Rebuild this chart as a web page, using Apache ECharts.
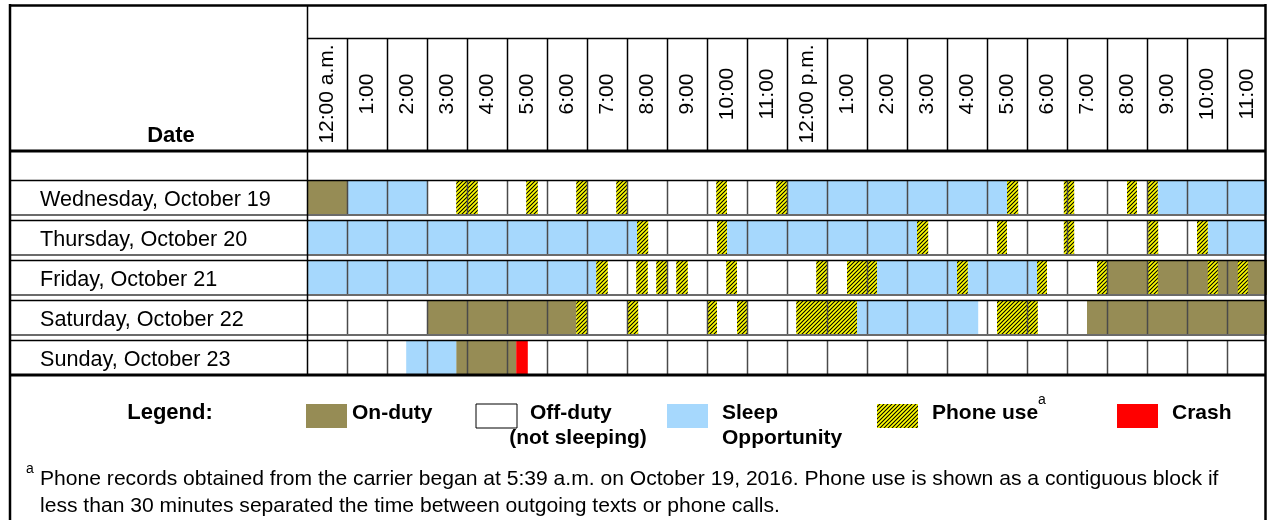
<!DOCTYPE html>
<html>
<head>
<meta charset="utf-8">
<script src="https://cdn.jsdelivr.net/npm/echarts@6/dist/echarts.min.js"></script>
<style>
  html, body { margin: 0; padding: 0; background: #fff; }
  #chart { width: 1267px; height: 520px; }
</style>
</head>
<body>
<div id="chart"></div>
<script>
// rows (top to bottom)
var days = ['Wednesday, October 19', 'Thursday, October 20', 'Friday, October 21',
  'Saturday, October 22', 'Sunday, October 23'];

// column headers, one per hour
var hourLabels = ['12:00 a.m.', '1:00', '2:00', '3:00', '4:00', '5:00', '6:00', '7:00', '8:00',
  '9:00', '10:00', '11:00', '12:00 p.m.', '1:00', '2:00', '3:00', '4:00', '5:00', '6:00', '7:00',
  '8:00', '9:00', '10:00', '11:00'];

// [dayIndex, startHour, endHour]; off-duty is everything not covered
var onDuty = [[0, 0, 1], [2, 20, 24], [3, 3, 6.73], [3, 19.5, 24], [4, 3.73, 5.23]];

var sleep = [[0, 1, 3], [0, 12, 17.5], [0, 21.27, 24],
  [1, 0, 8.25], [1, 10.5, 15.25], [1, 22.52, 24],
  [2, 0, 7.23], [2, 14.25, 18.25],
  [3, 13.75, 16.78],
  [4, 2.48, 3.73]];

var phoneUse = [
  [0, 3.73, 4.27], [0, 5.48, 5.77], [0, 6.73, 7.0], [0, 7.73, 8.0], [0, 10.23, 10.5],
  [0, 11.73, 12.0], [0, 17.5, 17.78], [0, 18.92, 19.18], [0, 20.5, 20.75], [0, 21.0, 21.27],
  [1, 8.25, 8.53], [1, 10.25, 10.5], [1, 15.25, 15.53], [1, 17.25, 17.5], [1, 18.92, 19.18],
  [1, 21.03, 21.28], [1, 22.25, 22.52],
  [2, 7.23, 7.52], [2, 8.23, 8.52], [2, 8.73, 9.0], [2, 9.23, 9.52], [2, 10.48, 10.75],
  [2, 12.73, 13.0], [2, 13.5, 14.25], [2, 16.25, 16.52], [2, 18.25, 18.5], [2, 19.75, 20.02],
  [2, 21.03, 21.27], [2, 22.52, 22.77], [2, 23.27, 23.52],
  [3, 6.73, 7.0], [3, 8.02, 8.28], [3, 10.02, 10.25], [3, 10.75, 11.0], [3, 12.23, 13.75],
  [3, 17.25, 18.27]];

var crash = [[4, 5.23, 5.52]];

var FONT = '"Liberation Sans", Arial, sans-serif';
var OLIVE = '#968C55';
var BLUE = '#A6D8FD';
var RED = '#FF0000';

function makeHatch() {
  var c = document.createElement('canvas');
  c.width = 4; c.height = 4;
  var g = c.getContext('2d');
  g.fillStyle = '#FFFF00';
  g.fillRect(0, 0, 4, 4);
  g.strokeStyle = '#000';
  g.lineWidth = 1.1;
  g.beginPath();
  g.moveTo(-1, 5); g.lineTo(5, -1);
  g.moveTo(-1, 1); g.lineTo(1, -1);
  g.moveTo(3, 5); g.lineTo(5, 3);
  g.stroke();
  return { image: c, repeat: 'repeat' };
}
var HATCH = makeHatch();

function blockRenderer(fill) {
  return function (params, api) {
    var p0 = api.coord([api.value(1), api.value(0)]);
    var p1 = api.coord([api.value(2), api.value(0)]);
    var band = api.size([0, 1])[1];
    return {
      type: 'rect',
      shape: { x: p0[0], y: p0[1] - band / 2, width: p1[0] - p0[0], height: band - 5 },
      style: { fill: fill }
    };
  };
}

function blockSeries(name, data, fill, z) {
  return {
    type: 'custom', name: name, data: data, z: z,
    encode: { x: [1, 2], y: 0 },
    renderItem: blockRenderer(fill)
  };
}

// hour grid lines + row borders, one group per row
function rowFrame(params, api) {
  var i = api.value(0);
  var c = api.coord([0, i]);
  var band = api.size([0, 1])[1];
  var top = c[1] - band / 2;
  var bottom = top + band - 5;
  var last = params.dataIndex === days.length - 1;
  var kids = [];
  for (var h = 1; h < hourLabels.length; h++) {
    var x = Math.round(api.coord([h, i])[0]) + 0.5;
    kids.push({ type: 'line', shape: { x1: x, y1: top, x2: x, y2: bottom },
      style: { stroke: '#4a4a4a', lineWidth: 1.5 } });
  }
  kids.push({ type: 'line', shape: { x1: 10, y1: top + 0.5, x2: 1266, y2: top + 0.5 },
    style: { stroke: '#000', lineWidth: 1.5 } });
  kids.push({ type: 'line', shape: { x1: 10, y1: bottom, x2: 1266, y2: bottom },
    style: last ? { stroke: '#000', lineWidth: 3 } : { stroke: '#6b6b6b', lineWidth: 2 } });
  if (params.dataIndex === 0) {
    for (var k = 1; k < hourLabels.length; k++) {
      var hx = Math.round(api.coord([k, 0])[0]) + 0.5;
      kids.push({ type: 'line', shape: { x1: hx, y1: 38, x2: hx, y2: 151 },
        style: { stroke: '#000', lineWidth: 1.5 } });
    }
  }
  return { type: 'group', children: kids };
}

function line(x1, y1, x2, y2, w) {
  return { type: 'line', z: 20, shape: { x1: x1, y1: y1, x2: x2, y2: y2 },
    style: { stroke: '#000', lineWidth: w } };
}
function text(x, y, str, size, bold, align) {
  return { type: 'text', z: 20, x: x, y: y,
    style: { text: str, fontSize: size, fontWeight: bold ? 'bold' : 'normal', fontFamily: FONT,
      fill: '#000', textAlign: align || 'left', textVerticalAlign: 'middle' } };
}
function box(x, fill, stroke) {
  return { type: 'rect', z: 20, shape: { x: x, y: 404, width: 41, height: 24 },
    style: { fill: fill, stroke: stroke || null, lineWidth: 1 } };
}

var chart = echarts.init(document.getElementById('chart'));
chart.setOption({
  animation: false,
  backgroundColor: '#fff',
  grid: { left: 307, right: 0, top: 180, bottom: 140 },
  xAxis: [
    { type: 'value', min: 0, max: 24, show: false },
    { type: 'category', position: 'top', data: hourLabels.map(function (d, i) { return i; }),
      axisLine: { show: false }, axisTick: { show: false }, splitLine: { show: false },
      axisLabel: { interval: 0, rotate: -90, align: 'center', verticalAlign: 'middle', margin: 86,
        fontSize: 21, color: '#000', fontFamily: FONT,
        formatter: function (v, i) { return hourLabels[i]; } } }
  ],
  yAxis: {
    type: 'category', data: days, inverse: true,
    axisLine: { show: false }, axisTick: { show: false }, splitLine: { show: false },
    axisLabel: { align: 'left', margin: 267, fontSize: 21.6, color: '#000', fontFamily: FONT,
      padding: [0, 0, 5, 0] }
  },
  series: [
    blockSeries('On-duty', onDuty, OLIVE, 2),
    blockSeries('Sleep Opportunity', sleep, BLUE, 2),
    blockSeries('Phone use', phoneUse, HATCH, 3),
    blockSeries('Crash', crash, RED, 3),
    { type: 'custom', name: 'frame', z: 6, data: days.map(function (d, i) { return [i]; }),
      encode: { y: 0 }, renderItem: rowFrame }
  ],
  graphic: [
    line(10, 5.5, 1266, 5.5, 2.5),
    line(307, 38.5, 1266, 38.5, 1.5),
    line(10, 151, 1266, 151, 3),
    line(10, 4, 10, 520, 2.5),
    line(1265.5, 4, 1265.5, 520, 2.5),
    line(307.5, 5, 307.5, 374, 1.5),
    text(171, 136, 'Date', 22, true, 'center'),
    text(170, 413, 'Legend:', 22, true, 'center'),
    box(306, OLIVE),
    text(352, 413, 'On-duty', 21, true),
    box(476, '#fff', '#000'),
    text(530, 413, 'Off-duty', 21, true),
    text(578, 438, '(not sleeping)', 21, true, 'center'),
    box(667, BLUE),
    text(722, 413, 'Sleep', 21, true),
    text(722, 438, 'Opportunity', 21, true),
    box(877, HATCH),
    text(932, 413, 'Phone use', 21, true),
    text(1038, 400, 'a', 14, false),
    box(1117, RED),
    text(1172, 413, 'Crash', 21, true),
    text(26, 469, 'a', 14, false),
    text(40, 479, 'Phone records obtained from the carrier began at 5:39 a.m. on October 19, 2016. Phone use is shown as a contiguous block if', 21.1, false),
    text(40, 506, 'less than 30 minutes separated the time between outgoing texts or phone calls.', 21.1, false)
  ]
});
</script>
</body>
</html>
